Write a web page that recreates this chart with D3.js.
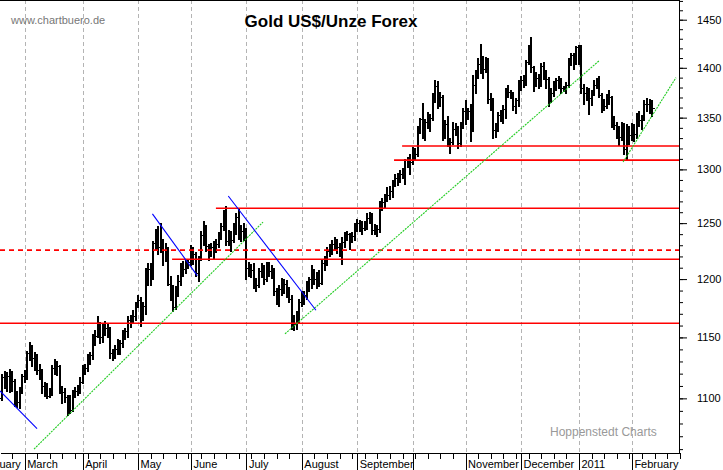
<!DOCTYPE html>
<html>
<head>
<meta charset="utf-8">
<script src="https://cdn.jsdelivr.net/npm/d3@7"></script>
<style>
  body { margin: 0; background: #fff; }
  svg { display: block; }
</style>
</head>
<body>
<div id="chart"></div>
<script>
// Gold US$/Unze Forex, daily OHLC bars, one bar per forex weekday
// first bar is 16 Feb 2010, last bar 11 Feb 2011

const firstDay = new Date(2010, 1, 16);

const opens = [
  1100,1117,1114,1118,1108,1114,1098,1097,1106,
  1118,1118,1137,1142,1133,1134,1123,1122,1110,1108,1102,1104,1125,1127,1126,1107,1105,1101,1089,1091,1105,1106,1107,
  1113,1124,1125,1133,1135,1150,1151,1162,1150,1160,1158,1156,1137,1137,1140,1146,1145,1153,1155,1165,1167,1168,
  1179,1182,1169,1177,1206,1209,1202,1232,1242,1228,1230,1226,1225,1196,1187,1176,1191,1198,1212,1209,1213,
  1215,1221,1222,1205,1219,1239,1243,1229,1225,1228,1227,1231,1240,1247,1256,1234,1238,1235,1245,1256,1238,1243,
  1244,1210,1209,1208,1194,1195,1207,1210,1200,1212,1207,1208,1190,1184,1191,1192,1196,1188,1183,1159,1161,1166,
  1180,1183,1186,1197,1200,1206,1200,1198,1197,1214,1215,1225,1226,1231,1233,1228,1226,1233,1240,1240,1237,1238,
  1247,1250,1249,1246,1248,1255,1257,1244,1246,1245,1268,1269,1274,1276,1280,1287,1292,1292,1296,1297,1309,1309,
  1307,1318,1315,1340,1349,1333,1346,1352,1350,1372,1382,1368,1370,1336,1344,1325,1326,1339,1340,1325,1343,
  1357,1352,1357,1339,1383,1394,1404,1410,1399,1406,1368,1367,1338,1339,1353,1352,1359,1375,1376,1373,1362,1367,
  1386,1388,1389,1406,1420,1401,1384,1390,1384,1402,1394,1389,1369,1375,1383,1388,1388,1380,1380,1383,1405,1413,1405,
  1421,1422,1380,1375,1372,1369,1376,1383,1386,1372,1360,1362,1367,1370,1344,1343,1340,1331,1343,1319,1340,
  1333,1339,1334,1353,1348,1350,1364,1364,1364
];
const highs = [
  1120,1122,1121,1124,1122,1116,1106,1109,1120,
  1123,1139,1146,1144,1138,1136,1128,1124,1113,1112,1108,1127,1132,1130,1127,1110,1108,1103,1103,1107,1109,1111,1117,
  1127,1128,1136,1138,1153,1156,1168,1163,1162,1164,1161,1159,1140,1144,1149,1148,1156,1158,1168,1169,1173,1180,
  1186,1184,1180,1210,1214,1214,1234,1245,1247,1250,1236,1232,1228,1203,1195,1194,1204,1214,1216,1218,1218,
  1230,1228,1224,1220,1243,1252,1248,1231,1232,1234,1236,1242,1250,1262,1266,1244,1243,1250,1259,1263,1248,1250,
  1246,1215,1213,1214,1201,1210,1214,1212,1215,1215,1212,1210,1192,1195,1201,1200,1199,1193,1186,1169,1172,1183,
  1190,1190,1198,1202,1212,1209,1206,1208,1217,1220,1228,1231,1235,1237,1236,1232,1237,1242,1243,1241,1242,1250,
  1254,1253,1252,1252,1259,1260,1259,1249,1248,1270,1273,1277,1283,1284,1290,1296,1297,1299,1301,1310,1312,1315,
  1321,1320,1342,1350,1365,1349,1356,1354,1374,1388,1387,1376,1372,1348,1352,1330,1346,1345,1342,1346,1360,
  1367,1360,1364,1393,1398,1410,1425,1412,1411,1410,1374,1369,1345,1356,1358,1363,1380,1383,1378,1376,1369,1388,
  1392,1393,1408,1424,1432,1402,1396,1394,1405,1406,1398,1391,1380,1387,1390,1392,1390,1382,1386,1410,1415,1415,1422,
  1424,1424,1384,1381,1380,1378,1388,1390,1392,1375,1368,1373,1378,1371,1352,1346,1342,1346,1345,1344,1342,
  1345,1344,1355,1357,1353,1367,1369,1368,1367
];
const lows = [
  1099,1108,1106,1105,1106,1094,1093,1092,1104,
  1113,1116,1131,1126,1123,1120,1116,1104,1102,1100,1101,1103,1120,1119,1104,1096,1097,1087,1088,1090,1101,1103,1104,
  1112,1120,1122,1128,1132,1144,1150,1145,1146,1152,1150,1133,1131,1133,1136,1136,1142,1149,1150,1159,1162,1165,
  1176,1160,1165,1170,1195,1195,1200,1226,1222,1224,1212,1216,1195,1182,1172,1174,1185,1195,1203,1205,1210,
  1212,1213,1203,1198,1217,1230,1225,1217,1220,1219,1224,1228,1236,1244,1230,1230,1225,1233,1240,1236,1234,1235,
  1200,1203,1202,1192,1190,1193,1202,1196,1198,1203,1201,1186,1178,1177,1186,1188,1184,1180,1157,1156,1157,1163,
  1177,1178,1183,1190,1192,1196,1192,1194,1196,1208,1212,1220,1222,1226,1223,1220,1213,1228,1235,1227,1233,1235,
  1243,1243,1240,1244,1245,1250,1240,1240,1238,1242,1262,1265,1270,1272,1274,1284,1285,1288,1292,1286,1302,1296,
  1305,1309,1313,1335,1330,1328,1340,1337,1348,1366,1360,1362,1328,1330,1322,1316,1324,1333,1320,1322,1340,
  1344,1349,1327,1337,1375,1390,1395,1390,1396,1365,1358,1330,1331,1337,1347,1345,1350,1370,1369,1358,1355,1362,
  1378,1381,1383,1404,1396,1377,1382,1380,1382,1389,1380,1362,1366,1371,1378,1380,1375,1377,1375,1381,1403,1399,1404,
  1404,1375,1364,1367,1354,1363,1372,1380,1370,1356,1358,1360,1364,1341,1339,1330,1323,1328,1315,1309,1324,
  1328,1327,1330,1342,1339,1348,1357,1355,1352
];
const closes = [
  1117,1114,1118,1108,1114,1098,1097,1106,1118,
  1118,1137,1142,1133,1134,1123,1122,1110,1108,1102,1104,1125,1127,1126,1107,1105,1101,1089,1091,1105,1106,1107,1113,
  1124,1125,1133,1135,1150,1151,1162,1150,1160,1158,1156,1137,1137,1140,1146,1145,1153,1155,1165,1167,1168,1179,
  1182,1169,1177,1206,1209,1202,1232,1242,1228,1230,1226,1225,1196,1187,1176,1191,1198,1212,1209,1213,1215,
  1221,1222,1205,1219,1239,1243,1229,1225,1228,1227,1231,1240,1247,1256,1234,1238,1235,1245,1256,1238,1243,1244,
  1210,1209,1208,1194,1195,1207,1210,1200,1212,1207,1208,1190,1184,1191,1192,1196,1188,1183,1159,1161,1166,1180,
  1183,1186,1197,1200,1206,1200,1198,1197,1214,1215,1225,1226,1231,1233,1228,1226,1233,1240,1240,1237,1238,1247,
  1250,1249,1246,1248,1255,1257,1244,1246,1245,1268,1269,1274,1276,1280,1287,1292,1292,1296,1297,1309,1309,1307,
  1318,1315,1340,1349,1333,1346,1352,1350,1372,1382,1368,1370,1336,1344,1325,1326,1339,1340,1325,1343,1357,
  1352,1357,1339,1383,1394,1404,1410,1399,1406,1368,1367,1338,1339,1353,1352,1359,1375,1376,1373,1362,1367,1386,
  1388,1389,1406,1420,1401,1384,1390,1384,1402,1394,1389,1369,1375,1383,1388,1388,1380,1380,1383,1405,1413,1405,1421,
  1422,1380,1375,1372,1369,1376,1383,1386,1372,1360,1362,1367,1370,1344,1343,1340,1331,1343,1319,1340,1333,
  1339,1334,1353,1348,1350,1364,1364,1364,1360
];

// month names under the axis (October label is left out, as in the original)
const monthLabels = ["February","March","April","May","June","July","August",
  "September","","November","December","2011","February"];

// price ticks
const minorPrices = d3.range(1060, 1471, 10);
const majorPrices = d3.range(1100, 1451, 50);

// drawn lines, positions in trading days counted from 1 March 2010
const greenTrends = [[3.7,1060, 94.6,1251], [103.3,1153, 227.9,1407], [237.5,1307, 258.5,1390]];
const blueTrends  = [[-9.8,1106, 4.9,1076], [50.7,1258.5, 68.5,1203], [80.8,1275, 115.6,1173]];
// horizontal marks: price, first trading day (null = whole chart), dashed?
const redLevels = [
  [1162, null, false], [1225.6, null, true], [1217.5, 58.5, false],
  [1263.7, 75.9, false], [1308.8, 146.6, false], [1322.3, 149.8, false]
];

//----------------------------------------------------------------------------------

const width = 723, height = 470;
const plotRight = 679, plotBottom = 453;

const svg = d3.select("#chart").append("svg")
  .attr("width", width).attr("height", height)
  .style("font-family", "'Liberation Sans', Arial, sans-serif");

// forex calendar: all weekdays
const days = d3.timeDay.range(new Date(2010, 1, 1), new Date(2011, 2, 1))
  .filter(d => d.getDay() % 6 !== 0);
const base = days.findIndex(d => +d === +new Date(2010, 2, 1));
const posOf = d => days.findIndex(e => +e >= +d) - base;

const startPos = posOf(firstDay);
const bars = closes.map((c, i) => ({
  pos: startPos + i, o: opens[i], h: highs[i], l: lows[i], c: c
}));

const x = d3.scaleLinear().domain([-9.8, 259.7]).range([0, plotRight]);
const y = d3.scaleLog().domain([1057, 1471]).range([plotBottom, 0]);
const px = v => Math.round(x(v));
const py = v => Math.round(y(v)) + 0.5;

svg.append("defs").append("clipPath").attr("id", "clip")
  .append("rect").attr("x", 0).attr("y", 0).attr("width", plotRight).attr("height", plotBottom);

// month positions
const months = d3.timeMonth.range(new Date(2010, 1, 1), new Date(2011, 2, 1)).map(posOf);
const mondays = days.filter(d => d.getDay() === 1).map(posOf).filter(p => !months.includes(p));

// vertical dashed grid
svg.append("g").selectAll("line").data(months).join("line")
  .attr("x1", d => px(d) + 0.5).attr("x2", d => px(d) + 0.5).attr("y1", 0).attr("y2", plotBottom)
  .attr("stroke", "#b4b4b4").attr("stroke-dasharray", "4,3");

// texts
svg.append("text").attr("x", 11).attr("y", 24).attr("font-size", 11).attr("fill", "#777")
  .text("www.chartbuero.de");
svg.append("text").attr("x", 331).attr("y", 27).attr("font-size", 17).attr("font-weight", "bold")
  .attr("text-anchor", "middle").text("Gold US$/Unze Forex");
svg.append("text").attr("x", 550).attr("y", 436).attr("font-size", 12).attr("fill", "#999")
  .text("Hoppenstedt Charts");

const plot = svg.append("g").attr("clip-path", "url(#clip)");

// OHLC bars: 2px high-low stem, 1px open tick left, close tick right
const barG = plot.append("g").attr("stroke", "#000").attr("shape-rendering", "crispEdges");
barG.selectAll("line.hl").data(bars).join("line").attr("class", "hl")
  .attr("stroke-width", 2)
  .attr("x1", d => px(d.pos)).attr("x2", d => px(d.pos))
  .attr("y1", d => py(d.h) - 0.5).attr("y2", d => py(d.l) + 0.5);
barG.selectAll("line.op").data(bars).join("line").attr("class", "op")
  .attr("stroke-width", 1)
  .attr("x1", d => px(d.pos) - 3).attr("x2", d => px(d.pos))
  .attr("y1", d => py(d.o)).attr("y2", d => py(d.o));
barG.selectAll("line.cl").data(bars).join("line").attr("class", "cl")
  .attr("stroke-width", 1)
  .attr("x1", d => px(d.pos)).attr("x2", d => px(d.pos) + 3)
  .attr("y1", d => py(d.c)).attr("y2", d => py(d.c));

// red support / resistance lines
plot.append("g").selectAll("line").data(redLevels).join("line")
  .attr("x1", d => d[1] === null ? 0 : x(d[1])).attr("x2", plotRight)
  .attr("y1", d => y(d[0])).attr("y2", d => y(d[0]))
  .attr("stroke", "#ff0000").attr("stroke-width", 1.6)
  .attr("stroke-dasharray", d => d[2] ? "5,4" : null);

// trend lines
plot.append("g").selectAll("line").data(greenTrends).join("line")
  .attr("x1", d => x(d[0])).attr("y1", d => y(d[1]))
  .attr("x2", d => x(d[2])).attr("y2", d => y(d[3]))
  .attr("stroke", "#22cc22").attr("stroke-width", 1.1).attr("stroke-dasharray", "2,1");
plot.append("g").selectAll("line").data(blueTrends).join("line")
  .attr("x1", d => x(d[0])).attr("y1", d => y(d[1]))
  .attr("x2", d => x(d[2])).attr("y2", d => y(d[3]))
  .attr("stroke", "#0000ff").attr("stroke-width", 1.1);

// top frame line
svg.append("line").attr("x1", 0).attr("x2", plotRight).attr("y1", 0.5).attr("y2", 0.5)
  .attr("stroke", "#000");

// x axis: weekly minor ticks, month ticks with labels to the right
const xMinor = svg.append("g").attr("transform", `translate(0,${plotBottom})`)
  .call(d3.axisBottom(x).tickValues(mondays).tickSize(6).tickFormat("").tickSizeOuter(0));
const xMajor = svg.append("g").attr("transform", `translate(0,${plotBottom})`)
  .call(d3.axisBottom(x).tickValues(months).tickSize(17).tickSizeOuter(0)
    .tickFormat((d, i) => monthLabels[i]));
xMajor.selectAll("text").attr("x", 2).attr("y", 15).attr("dy", 0)
  .attr("text-anchor", "start").attr("font-size", 11).attr("fill", "#000")
  .attr("font-family", "'Liberation Sans', Arial, sans-serif");
xMinor.select(".domain").remove();
svg.selectAll(".tick line").attr("shape-rendering", "crispEdges");

// y axis on the right
const yMinor = svg.append("g").attr("transform", `translate(${plotRight},0)`)
  .call(d3.axisRight(y).tickValues(minorPrices).tickSize(4).tickFormat("").tickSizeOuter(0));
yMinor.select(".domain").remove();
const yMajor = svg.append("g").attr("transform", `translate(${plotRight},0)`)
  .call(d3.axisRight(y).tickValues(majorPrices).tickSize(8).tickSizeOuter(0)
    .tickFormat(d3.format("d")));
yMajor.select(".domain").attr("d", `M0.5,0V${plotBottom}`);
yMajor.selectAll("text").attr("x", 18).attr("font-size", 11).attr("fill", "#000")
  .attr("font-family", "'Liberation Sans', Arial, sans-serif");
svg.selectAll(".domain").attr("shape-rendering", "crispEdges");
</script>
</body>
</html>
